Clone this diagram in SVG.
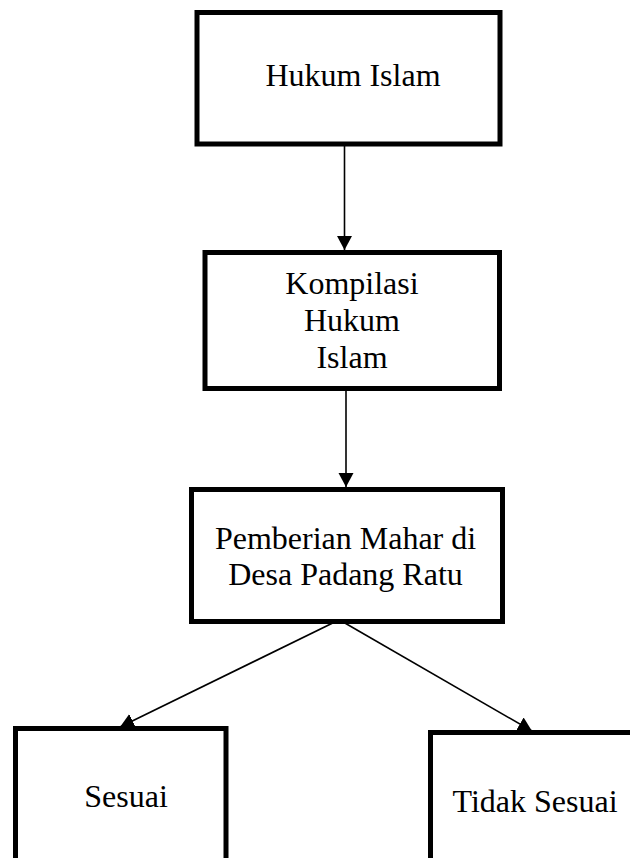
<svg xmlns="http://www.w3.org/2000/svg" width="630" height="858" viewBox="0 0 630 858">
<defs>
<style>
.box{fill:#fff;stroke:#000;stroke-width:5}
.t{font-family:"Liberation Serif","Times New Roman",serif;font-size:32px;fill:#000;text-anchor:middle}
.c{stroke:#000;stroke-width:1.6;fill:none;marker-end:url(#ah)}
</style>
<marker id="ah" markerUnits="userSpaceOnUse" markerWidth="15" markerHeight="16" refX="14" refY="7.5" orient="auto" viewBox="0 0 15 15">
<path d="M0,0 L14,7.5 L0,15 z" fill="#000"/>
</marker>
</defs>
<rect width="630" height="858" fill="#fff"/>
<g id="connectors">
<line class="c" x1="344.5" y1="146" x2="344.5" y2="250"/>
<line class="c" x1="346" y1="391" x2="346" y2="487"/>
<line class="c" x1="345" y1="617" x2="120" y2="727"/>
<line class="c" x1="331" y1="615" x2="532" y2="731"/>
</g>
<g id="hukum-islam">
<rect class="box" x="197" y="12.5" width="303" height="131.5"/>
<text class="t" x="353" y="86">Hukum Islam</text>
</g>
<g id="kompilasi">
<rect class="box" x="205" y="252.5" width="294.5" height="136"/>
<text class="t" x="352" y="294">Kompilasi</text>
<text class="t" x="352" y="331">Hukum</text>
<text class="t" x="352" y="368">Islam</text>
</g>
<g id="pemberian">
<rect class="box" x="191.5" y="489.5" width="311" height="132"/>
<text class="t" x="345.5" y="549">Pemberian Mahar di</text>
<text class="t" x="345.5" y="585">Desa Padang Ratu</text>
</g>
<g id="sesuai">
<rect class="box" x="15.5" y="728.5" width="210.5" height="150"/>
<text class="t" x="126" y="807">Sesuai</text>
</g>
<g id="tidak-sesuai">
<rect class="box" x="430.5" y="732.5" width="220" height="150"/>
<text class="t" x="535" y="812">Tidak Sesuai</text>
</g>
</svg>
